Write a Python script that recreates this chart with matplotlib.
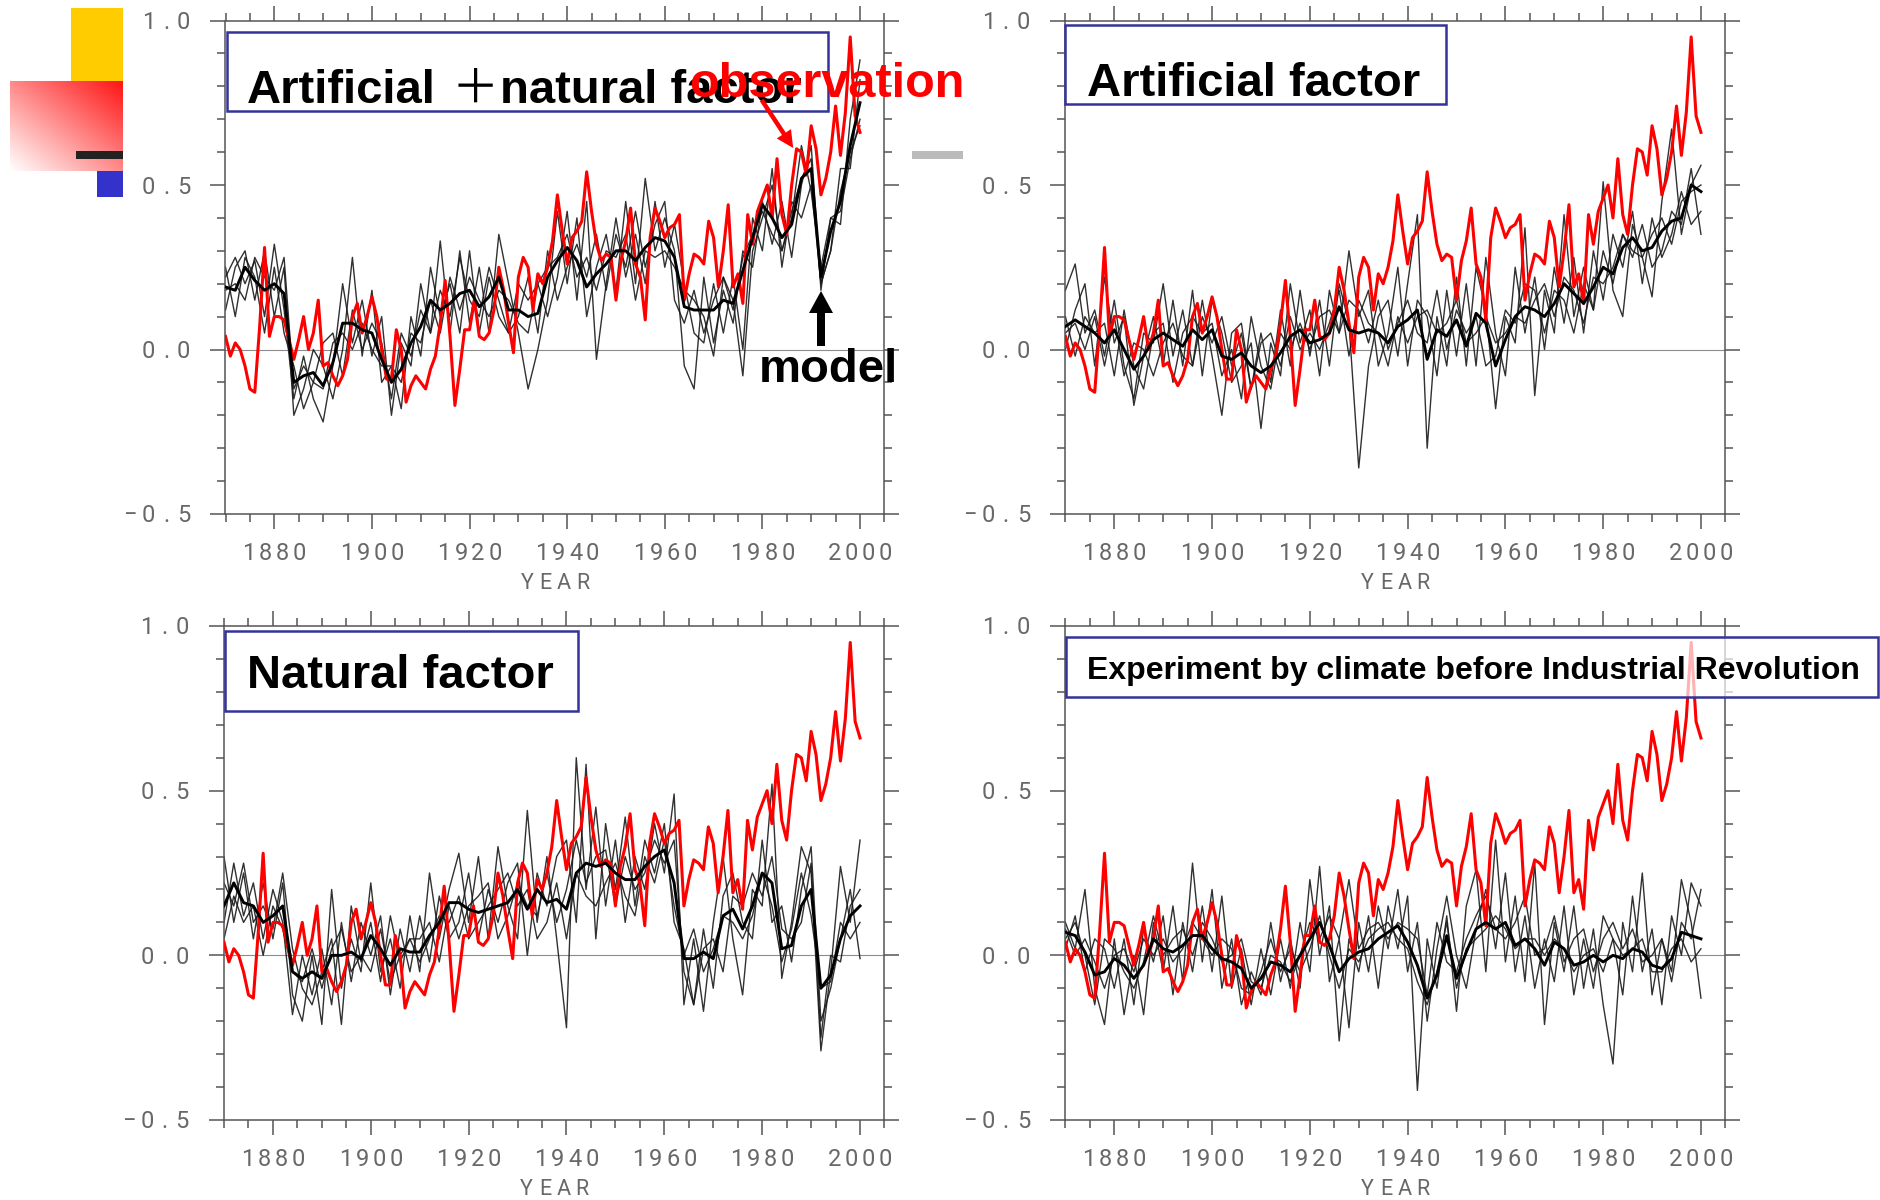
import numpy as np
import matplotlib
matplotlib.use("Agg")
import matplotlib.pyplot as plt
import matplotlib.transforms as mtransforms
from matplotlib.patches import Rectangle, FancyArrow

FIG_W, FIG_H = 1881, 1200

# Observed global-mean surface temperature anomaly (degC), annual 1870-2000
obs_years = np.arange(1870, 2001)
obs_anomaly = [
    0.04, -0.02, 0.02, 0.00, -0.05, -0.12, -0.13, 0.07, 0.31, 0.04,
    0.10, 0.10, 0.09, 0.03, -0.03, 0.03, 0.10, 0.00, 0.05, 0.15,
    -0.05, -0.04, -0.08, -0.11, -0.08, -0.03, 0.10, 0.14, 0.05, 0.10,
    0.16, 0.10, 0.00, -0.09, -0.09, 0.06, 0.00, -0.16, -0.11, -0.08,
    -0.10, -0.12, -0.06, -0.02, 0.08, 0.21, 0.04, -0.17, -0.06, 0.06,
    0.06, 0.15, 0.04, 0.03, 0.05, 0.12, 0.25, 0.18, 0.08, -0.01,
    0.22, 0.28, 0.25, 0.12, 0.23, 0.20, 0.25, 0.33, 0.47, 0.36,
    0.26, 0.34, 0.36, 0.39, 0.54, 0.42, 0.32, 0.27, 0.29, 0.28,
    0.15, 0.27, 0.33, 0.43, 0.26, 0.22, 0.09, 0.34, 0.43, 0.39,
    0.34, 0.37, 0.38, 0.41, 0.15, 0.23, 0.29, 0.28, 0.26, 0.39,
    0.34, 0.19, 0.30, 0.44, 0.19, 0.23, 0.14, 0.41, 0.32, 0.42,
    0.46, 0.50, 0.40, 0.58, 0.41, 0.35, 0.50, 0.61, 0.60, 0.53,
    0.68, 0.61, 0.47, 0.52, 0.60, 0.74, 0.59, 0.72, 0.95, 0.71,
    0.66,
]

# Model output, every second year 1870-2000
model_years = np.arange(1870, 2001, 2)

# --- anthropogenic + natural forcing ---
allforc_mean = [
    0.19, 0.18, 0.25, 0.21, 0.18,
    0.20, 0.17, -0.10, -0.08, -0.07,
    -0.11, -0.04, 0.08, 0.08, 0.06,
    0.05, -0.03, -0.10, -0.06, 0.02,
    0.07, 0.15, 0.12, 0.14, 0.17,
    0.18, 0.13, 0.16, 0.22, 0.12,
    0.12, 0.10, 0.11, 0.22, 0.27,
    0.31, 0.27, 0.19, 0.23, 0.26,
    0.30, 0.30, 0.27, 0.31, 0.34,
    0.33, 0.28, 0.13, 0.12, 0.12,
    0.12, 0.15, 0.14, 0.24, 0.34,
    0.44, 0.40, 0.34, 0.38, 0.52,
    0.55, 0.22, 0.36, 0.45, 0.62,
    0.75,
]
allforc_run1 = [
    0.22, 0.28, 0.20, 0.27, 0.10,
    0.32, 0.12, -0.15, -0.02, -0.15,
    -0.22, -0.05, 0.20, 0.02, 0.15,
    -0.02, 0.10, -0.20, 0.02, -0.05,
    0.20, 0.05, 0.33, 0.05, 0.30,
    0.08, 0.25, 0.05, 0.35, 0.20,
    0.05, -0.12, 0.00, 0.15, 0.42,
    0.20, 0.40, 0.10, 0.25, 0.35,
    0.18, 0.45, 0.20, 0.52, 0.30,
    0.40, 0.30, -0.05, -0.12, 0.22,
    0.02, 0.18, 0.08, 0.30, 0.25,
    0.45, 0.32, 0.45, 0.28, 0.50,
    0.62, 0.18, 0.40, 0.38, 0.70,
    0.88,
]
allforc_run2 = [
    0.12, 0.25, 0.30, 0.15, 0.30,
    0.10, 0.25, -0.20, -0.12, 0.00,
    -0.05, -0.15, 0.00, 0.28, -0.02,
    0.18, -0.10, -0.05, -0.18, 0.10,
    -0.02, 0.25, 0.10, 0.20, 0.05,
    0.30, 0.05, 0.22, 0.10, 0.05,
    0.20, 0.15, 0.20, 0.10, 0.22,
    0.42, 0.15, 0.45, -0.03, 0.20,
    0.40, 0.22, 0.35, 0.20, 0.45,
    0.25, 0.38, 0.20, 0.05, 0.02,
    0.20, 0.05, 0.22, 0.00, 0.40,
    0.30, 0.55, 0.25, 0.45, 0.40,
    0.50, 0.20, 0.30, 0.55, 0.55,
    0.82,
]
allforc_run3 = [
    0.25, 0.10, 0.28, 0.22, 0.05,
    0.25, 0.05, -0.05, -0.18, -0.10,
    0.02, 0.05, -0.08, 0.12, 0.00,
    0.08, 0.02, -0.15, 0.05, -0.02,
    0.12, 0.05, 0.18, 0.10, 0.28,
    0.15, 0.10, 0.25, 0.15, 0.05,
    0.10, 0.22, 0.05, 0.30, 0.15,
    0.25, 0.32, 0.22, 0.35, 0.18,
    0.35, 0.25, 0.42, 0.25, 0.38,
    0.45, 0.15, 0.08, 0.18, 0.05,
    0.15, 0.22, 0.15, -0.08, 0.30,
    0.40, 0.50, 0.30, 0.40, 0.62,
    0.48, 0.25, 0.40, 0.42, 0.58,
    0.70,
]
allforc_run4 = [
    0.18, 0.20, 0.15, 0.28, 0.22,
    0.18, 0.28, -0.12, -0.05, -0.10,
    -0.12, 0.02, 0.05, 0.00, 0.08,
    0.00, -0.05, -0.05, -0.10, 0.05,
    0.02, 0.15, 0.05, 0.22, 0.12,
    0.22, 0.15, 0.10, 0.18, 0.15,
    0.08, 0.05, 0.20, 0.25, 0.28,
    0.35, 0.22, 0.28, 0.18, 0.30,
    0.28, 0.35, 0.15, 0.30, 0.28,
    0.30, 0.25, 0.18, 0.15, 0.10,
    -0.02, 0.22, 0.12, 0.28, 0.35,
    0.42, 0.35, 0.30, 0.42, 0.52,
    0.58, 0.20, 0.30, 0.48, 0.60,
    0.68,
]

# --- anthropogenic forcing only ---
anthro_mean = [
    0.07, 0.09, 0.07, 0.05, 0.02,
    0.06, 0.00, -0.06, -0.02, 0.03,
    0.05, 0.03, 0.01, 0.06, 0.03,
    0.06, -0.02, -0.03, -0.01, -0.05,
    -0.07, -0.05, -0.01, 0.04, 0.06,
    0.02, 0.03, 0.05, 0.13, 0.06,
    0.05, 0.06, 0.05, 0.02, 0.07,
    0.09, 0.12, -0.03, 0.06, 0.04,
    0.09, 0.01, 0.11, 0.08, -0.05,
    0.03, 0.10, 0.13, 0.12, 0.10,
    0.14, 0.20, 0.17, 0.14, 0.19,
    0.25, 0.23, 0.31, 0.34, 0.30,
    0.31, 0.36, 0.39, 0.40, 0.50,
    0.48,
]
anthro_run1 = [
    0.18, 0.26, 0.05, 0.12, -0.02,
    0.15, -0.05, -0.15, 0.05, 0.02,
    0.20, -0.02, 0.12, -0.05, 0.15,
    -0.02, -0.20, 0.05, 0.08, -0.12,
    0.05, -0.10, 0.12, -0.05, 0.18,
    -0.02, 0.15, -0.05, 0.20, 0.08,
    -0.36, -0.05, 0.10, 0.15, -0.02,
    0.20, 0.41, -0.30, 0.10, -0.05,
    0.22, -0.05, 0.25, 0.12, -0.18,
    0.10, 0.02, 0.37, -0.14, 0.18,
    0.05, 0.41, 0.10, 0.25, 0.12,
    0.51, 0.18, 0.10, 0.38, 0.28,
    0.16, 0.45, 0.67, 0.35, 0.50,
    0.56,
]
anthro_run2 = [
    0.00, 0.12, 0.20, -0.05, 0.22,
    0.02, 0.10, -0.17, -0.02, 0.10,
    -0.05, 0.15, -0.05, 0.18, -0.08,
    0.15, 0.05, -0.10, -0.05, 0.02,
    -0.24, 0.02, -0.08, 0.20, 0.02,
    0.12, -0.08, 0.18, 0.05, 0.30,
    0.10, 0.18, -0.05, 0.05, 0.25,
    -0.05, 0.15, 0.10, -0.08, 0.18,
    -0.02, 0.20, -0.05, 0.28, 0.05,
    -0.08, 0.25, 0.05, 0.22, 0.00,
    0.25, 0.08, 0.28, 0.05, 0.30,
    0.15, 0.35, 0.25, 0.42, 0.20,
    0.40, 0.28, 0.35, 0.48, 0.38,
    0.42,
]
anthro_run3 = [
    0.10, -0.02, 0.10, 0.05, 0.08,
    -0.08, 0.12, -0.05, -0.12, 0.05,
    0.08, -0.10, 0.05, 0.10, 0.05,
    0.08, -0.08, 0.00, -0.15, 0.10,
    -0.05, -0.12, 0.05, 0.00, 0.08,
    0.00, 0.10, 0.12, 0.05, 0.15,
    0.12, 0.02, 0.15, 0.00, 0.08,
    0.15, 0.05, 0.02, 0.18, 0.00,
    0.12, 0.05, 0.10, -0.05, -0.02,
    0.12, 0.08, 0.20, 0.18, 0.05,
    0.18, 0.15, 0.05, 0.20, 0.12,
    0.30, 0.20, 0.35, 0.28, 0.38,
    0.25, 0.30, 0.42, 0.38, 0.55,
    0.35,
]
anthro_run4 = [
    0.05, 0.08, 0.00, 0.10, -0.05,
    0.10, -0.08, 0.02, 0.00, -0.08,
    0.02, 0.08, -0.02, -0.05, 0.10,
    0.02, 0.10, -0.05, 0.05, -0.12,
    0.02, 0.05, -0.05, 0.10, 0.00,
    0.05, 0.00, 0.08, 0.18, -0.02,
    0.15, 0.08, 0.05, -0.05, 0.10,
    0.02, 0.10, 0.12, 0.05, 0.08,
    0.15, 0.02, 0.05, 0.10, 0.02,
    0.05, 0.10, 0.08, 0.15, 0.20,
    0.10, 0.22, 0.18, 0.08, 0.22,
    0.20, 0.25, 0.35, 0.30, 0.28,
    0.35, 0.40, 0.32, 0.45, 0.48,
    0.50,
]

# --- natural forcing only ---
natural_mean = [
    0.15, 0.22, 0.16, 0.15, 0.10,
    0.12, 0.15, -0.05, -0.07, -0.05,
    -0.07, 0.00, 0.00, 0.01, -0.01,
    0.06, 0.02, -0.03, 0.02, 0.01,
    0.01, 0.06, 0.10, 0.16, 0.16,
    0.14, 0.13, 0.14, 0.15, 0.16,
    0.20, 0.14, 0.20, 0.16, 0.17,
    0.14, 0.25, 0.28, 0.27, 0.28,
    0.25, 0.23, 0.23, 0.27, 0.30,
    0.32, 0.22, -0.01, -0.01, 0.01,
    -0.01, 0.12, 0.14, 0.08, 0.15,
    0.25, 0.22, 0.02, 0.03, 0.15,
    0.20, -0.10, -0.06, 0.05, 0.12,
    0.15,
]
natural_run1 = [
    0.30, 0.10, 0.25, 0.05, 0.22,
    0.05, 0.22, -0.12, -0.20, 0.00,
    -0.21, 0.20, -0.10, 0.05, -0.05,
    0.22, -0.05, 0.05, -0.10, 0.12,
    -0.05, 0.25, 0.05, 0.20, 0.31,
    0.10, 0.30, 0.05, 0.33, 0.15,
    0.05, 0.44, 0.10, 0.30, 0.05,
    -0.22, 0.60, 0.20, 0.45, 0.15,
    0.35, 0.10, 0.30, 0.20, 0.40,
    0.25, 0.49, -0.15, 0.05, -0.17,
    0.10, 0.30, 0.05, -0.12, 0.20,
    0.15, 0.52, -0.07, 0.10, 0.33,
    0.25, -0.29, -0.05, 0.27, 0.10,
    0.35,
]
natural_run2 = [
    0.10, 0.28, 0.12, 0.22, 0.05,
    0.20, 0.10, -0.18, 0.00, -0.12,
    0.02, -0.15, 0.10, -0.08, 0.10,
    0.00, 0.12, -0.12, 0.08, -0.05,
    0.12, -0.02, 0.18, 0.05, 0.10,
    0.25, 0.05, 0.20, 0.10, 0.22,
    0.28, 0.00, 0.25, 0.15, 0.30,
    0.35, 0.10, 0.58, 0.05, 0.40,
    0.20, 0.42, 0.15, 0.35, 0.25,
    0.40, 0.10, 0.02, -0.15, 0.08,
    -0.10, 0.18, 0.25, 0.10, 0.05,
    0.35, 0.10, 0.15, -0.02, 0.20,
    0.33, -0.20, -0.10, 0.05, 0.20,
    -0.01,
]
natural_run3 = [
    0.22, 0.15, 0.28, 0.10, 0.15,
    0.08, 0.25, 0.02, -0.10, -0.15,
    -0.05, 0.05, -0.21, 0.15, -0.02,
    0.10, -0.08, 0.12, -0.02, 0.05,
    0.05, 0.10, -0.02, 0.15, 0.05,
    0.15, 0.18, 0.22, 0.05, 0.12,
    0.22, 0.15, 0.12, 0.25, 0.10,
    0.20, 0.35, 0.22, 0.30, 0.32,
    0.15, 0.30, 0.20, 0.25, 0.35,
    0.28, 0.35, -0.05, -0.15, 0.02,
    0.05, -0.05, 0.18, 0.15, 0.25,
    0.18, 0.30, 0.08, 0.05, 0.10,
    0.28, -0.25, 0.00, -0.02, 0.15,
    0.20,
]
natural_run4 = [
    0.05, 0.18, 0.10, 0.15, 0.00,
    0.15, 0.08, -0.05, -0.08, 0.02,
    -0.10, 0.02, 0.08, -0.05, 0.00,
    -0.05, 0.08, -0.08, 0.00, 0.05,
    -0.02, 0.05, 0.12, 0.10, 0.18,
    0.05, 0.10, 0.15, 0.20, 0.25,
    0.15, 0.20, 0.05, 0.10, 0.22,
    0.05, 0.25, 0.18, 0.15, 0.22,
    0.28, 0.18, 0.12, 0.30, 0.22,
    0.35, 0.15, 0.00, 0.08, -0.05,
    0.02, 0.12, 0.10, 0.05, 0.12,
    0.25, 0.15, -0.02, 0.08, 0.25,
    0.12, -0.10, -0.08, 0.10, 0.05,
    0.10,
]

# --- pre-industrial control climate ---
control_mean = [
    0.07, 0.06, 0.01, -0.06, -0.05,
    -0.01, -0.03, -0.07, -0.03, 0.05,
    0.02, 0.01, 0.03, 0.06, 0.06,
    0.02, -0.01, -0.02, -0.04, -0.10,
    -0.07, -0.02, -0.03, -0.05, 0.00,
    0.05, 0.10, 0.03, -0.05, -0.01,
    0.01, 0.02, 0.05, 0.07, 0.09,
    0.04, -0.03, -0.13, -0.06, 0.06,
    -0.07, 0.01, 0.08, 0.10, 0.08,
    0.10, 0.03, 0.05, 0.02, -0.03,
    0.04, 0.02, -0.03, -0.02, 0.00,
    -0.02, 0.00, -0.01, 0.02, 0.01,
    -0.03, -0.04, -0.01, 0.07, 0.06,
    0.05,
]
control_run1 = [
    0.10, 0.02, 0.20, -0.10, -0.21,
    0.05, -0.18, 0.00, -0.18, 0.10,
    -0.05, 0.15, -0.08, 0.28, -0.02,
    0.20, -0.10, 0.05, -0.15, -0.05,
    -0.12, 0.10, -0.08, 0.05, -0.10,
    0.23, 0.00, 0.15, -0.26, 0.05,
    -0.05, 0.12, -0.10, 0.15, 0.02,
    0.18, -0.41, 0.05, -0.10, 0.12,
    -0.17, 0.15, 0.26, -0.05, 0.35,
    -0.02, 0.18, -0.08, 0.28, -0.21,
    0.10, -0.05, 0.15, -0.10, 0.08,
    -0.15, -0.33, 0.10, -0.05, 0.25,
    -0.12, 0.05, -0.05, 0.23, 0.10,
    -0.13,
]
control_run2 = [
    0.02, 0.12, -0.05, 0.05, 0.02,
    -0.10, 0.05, -0.15, 0.08, -0.02,
    0.12, -0.12, 0.10, -0.05, 0.15,
    -0.05, 0.18, -0.10, 0.02, -0.15,
    0.02, -0.12, 0.05, -0.10, 0.10,
    -0.05, 0.27, -0.08, 0.05, -0.22,
    0.10, -0.05, 0.15, 0.02, 0.20,
    -0.05, 0.10, -0.20, 0.02, 0.18,
    0.00, -0.10, 0.08, 0.20, 0.02,
    0.25, -0.05, 0.12, -0.10, 0.05,
    -0.08, 0.15, -0.12, 0.05, -0.10,
    0.12, 0.05, -0.12, 0.18, -0.05,
    0.08, -0.15, 0.12, 0.00, 0.22,
    0.15,
]
control_run3 = [
    0.05, 0.10, 0.00, -0.15, 0.05,
    0.02, -0.05, -0.10, -0.02, 0.12,
    0.00, 0.05, 0.08, 0.00, 0.10,
    0.05, -0.02, 0.00, 0.05, -0.08,
    -0.10, 0.00, -0.02, -0.08, 0.00,
    0.10, 0.05, 0.12, 0.05, 0.23,
    0.02, 0.08, 0.10, 0.05, 0.10,
    0.08, 0.05, -0.12, 0.10, -0.02,
    -0.05, 0.05, 0.12, 0.18, 0.08,
    0.05, 0.10, 0.18, 0.00, 0.02,
    0.12, -0.02, 0.05, 0.08, -0.05,
    0.05, 0.10, 0.02, 0.08, -0.02,
    0.00, 0.05, -0.08, 0.10, 0.05,
    0.20,
]
control_run4 = [
    0.08, 0.00, 0.05, -0.02, -0.10,
    0.00, 0.02, -0.05, 0.05, 0.00,
    0.05, -0.02, 0.02, 0.10, 0.05,
    0.00, 0.05, 0.02, -0.10, -0.12,
    -0.05, 0.05, -0.05, 0.02, -0.05,
    0.02, 0.12, 0.00, -0.10, 0.02,
    -0.02, 0.05, 0.08, 0.10, 0.05,
    0.02, -0.08, -0.15, -0.05, 0.10,
    -0.10, 0.02, 0.05, 0.08, 0.12,
    0.08, 0.02, 0.05, 0.05, 0.00,
    0.05, 0.02, -0.05, 0.00, 0.02,
    -0.05, 0.05, 0.00, 0.02, 0.05,
    -0.05, -0.05, 0.02, 0.05, -0.02,
    0.02,
]

year_ticks = [1880, 1900, 1920, 1940, 1960, 1980, 2000]
year_labels = ["1880", "1900", "1920", "1940", "1960", "1980", "2000"]
value_ticks = [1.0, 0.5, 0.0, -0.5]
value_labels = ["1.0", "0.5", "0.0", "\u22120.5"]

# panel frames in pixels: left, right, top, bottom
panels = [
    dict(rect=(225.5, 884.4, 20.5, 514.0), mean=allforc_mean,
         runs=[allforc_run1, allforc_run2, allforc_run3, allforc_run4]),
    dict(rect=(1065.4, 1725.4, 20.5, 514.0), mean=anthro_mean,
         runs=[anthro_run1, anthro_run2, anthro_run3, anthro_run4]),
    dict(rect=(224.0, 884.5, 626.0, 1120.0), mean=natural_mean,
         runs=[natural_run1, natural_run2, natural_run3, natural_run4]),
    dict(rect=(1065.4, 1725.4, 626.0, 1120.0), mean=control_mean,
         runs=[control_run1, control_run2, control_run3, control_run4]),
]

fig = plt.figure(figsize=(FIG_W / 100, FIG_H / 100), dpi=100)
fig.patch.set_facecolor("white")

AXIS_GREY = "#555555"
LABEL_FONT = dict(family=["Roboto", "DejaVu Sans"], weight="normal",
                  size=17, color="#686868")


def put_chars(ax, base, x, y, offsets, chars, dy, **kw):
    """Draw characters one by one at pixel offsets (wide letter spacing)."""
    for off, ch in zip(offsets, chars):
        tr = mtransforms.offset_copy(base, fig=fig, x=off, y=dy, units="dots")
        ax.text(x, y, ch, transform=tr, ha="center", va="baseline", **kw)


def make_panel(rect, mean, runs):
    l, r, t, b = rect
    ax = fig.add_axes([l / FIG_W, 1 - b / FIG_H, (r - l) / FIG_W, (b - t) / FIG_H])
    ax.set_xlim(1870, 2005)
    ax.set_ylim(-0.5, 1.0)
    ax.axhline(0.0, color="#8c8c8c", lw=0.8, zorder=1)
    for run in runs:
        ax.plot(model_years, run, color="#1a1a1a", lw=1.0, alpha=0.9, zorder=2)
    ax.plot(obs_years, obs_anomaly, color="#ff0000", lw=2.2, zorder=3)
    ax.plot(model_years, mean, color="black", lw=2.1, zorder=4)

    ax.set_xticks(year_ticks)
    ax.set_xticks(np.arange(1870, 2006, 5), minor=True)
    ax.set_yticks(value_ticks)
    ax.set_yticks(np.round(np.arange(-0.5, 1.01, 0.1), 2), minor=True)
    ax.tick_params(which="both", direction="out", top=True, right=True,
                   labelbottom=False, labelleft=False,
                   color=AXIS_GREY, width=1.1)
    ax.tick_params(which="major", length=11)
    ax.tick_params(which="minor", length=6)
    for sp in ax.spines.values():
        sp.set_color(AXIS_GREY)
        sp.set_linewidth(1.1)

    # value labels, right-aligned left of the frame
    ybase = ax.get_yaxis_transform()
    for v, s in zip(value_ticks, value_labels):
        n = len(s)
        offs = [-42 - (n - 1 - i) * 17.5 for i in range(n)]
        put_chars(ax, ybase, 0, v, offs, s, -8.5, **LABEL_FONT)
    # year labels under the frame
    xbase = ax.get_xaxis_transform()
    for yr, s in zip(year_ticks, year_labels):
        offs = [(i - 1.5) * 17.0 for i in range(len(s))]
        put_chars(ax, xbase, yr, 0, offs, s, -46, **LABEL_FONT)
    put_chars(ax, ax.transAxes, 0.5, 0, [(i - 1.5) * 18.5 for i in range(4)],
              "YEAR", -75, **dict(LABEL_FONT, size=15.5))
    return ax


for p in panels:
    make_panel(p["rect"], p["mean"], p["runs"])

# overlay in pixel coordinates for the annotations
ov = fig.add_axes([0, 0, 1, 1], zorder=10)
ov.set_facecolor("none")
ov.axis("off")

# slide ornaments in the upper-left corner
ov.add_patch(Rectangle((71, 8), 52, 73, facecolor="#ffcc00", lw=0, zorder=1))
gx = np.linspace(0, 1, 120)
gy = np.linspace(0, 1, 90)
GX, GY = np.meshgrid(gx, gy)
tt = ((GX + (1 - GY)) / 2)[..., None]
grad = (1 - tt) * np.array([1.0, 1.0, 1.0]) + tt * np.array([1.0, 0.08, 0.08])
ov.imshow(grad, extent=(10, 123, 171, 81), aspect="auto",
          interpolation="bilinear", zorder=1)
ov.add_patch(Rectangle((76, 151), 47, 8, facecolor="#222222", lw=0, zorder=2))
ov.add_patch(Rectangle((97, 171), 26, 26, facecolor="#3333cc", lw=0, zorder=2))
ov.add_patch(Rectangle((912, 151), 51, 8, facecolor="#bbbbbb", lw=0, zorder=2))
ov.set_xlim(0, FIG_W)
ov.set_ylim(FIG_H, 0)

# title boxes
BOX_EDGE = "#333399"
boxes = [
    ((226.7, 32.0, 828.0, 111.0), "white"),
    ((1065.0, 24.8, 1445.7, 104.0), "white"),
    ((225.0, 631.4, 578.0, 711.0), "white"),
    ((1065.7, 637.0, 1878.0, 697.0), (1, 1, 1, 0.7)),
]
for (x0, y0, x1, y1), fc in boxes:
    ov.add_patch(Rectangle((x0, y0), x1 - x0, y1 - y0, facecolor=fc,
                           edgecolor=BOX_EDGE, lw=1.8, zorder=3))

BOLD = dict(family=["Liberation Sans", "DejaVu Sans"], weight="bold",
            va="baseline", zorder=5)
ov.text(246.7, 103, "Artificial", size=34, color="black", **BOLD)
ov.text(475, 103, "\uff0b", size=34, color="black", ha="center", va="baseline",
        family=["Noto Sans CJK JP", "DejaVu Sans"], zorder=5)
ov.text(500, 103, "natural factor", size=34, color="black", **BOLD)
ov.text(1086.7, 96.4, "Artificial factor", size=34, color="black", **BOLD)
ov.text(246.7, 688, "Natural factor", size=34, color="black", **BOLD)
ov.text(1086.7, 679, "Experiment by climate before Industrial Revolution",
        size=23, color="black", **BOLD)

# callouts
ov.text(689, 97, "observation", size=35, color="#ff0000", **dict(BOLD, zorder=6))
ov.add_patch(FancyArrow(761.7, 100, 31.5, 48, width=4.5, head_width=17,
                        head_length=17, length_includes_head=True,
                        color="#ff0000", lw=0, zorder=6))
ov.text(759, 382, "model", size=34, color="black", **BOLD)
ov.add_patch(FancyArrow(821, 346, 0, -55, width=8, head_width=24,
                        head_length=22, length_includes_head=True,
                        color="black", lw=0, zorder=6))

fig.savefig("out.png", dpi=100)
